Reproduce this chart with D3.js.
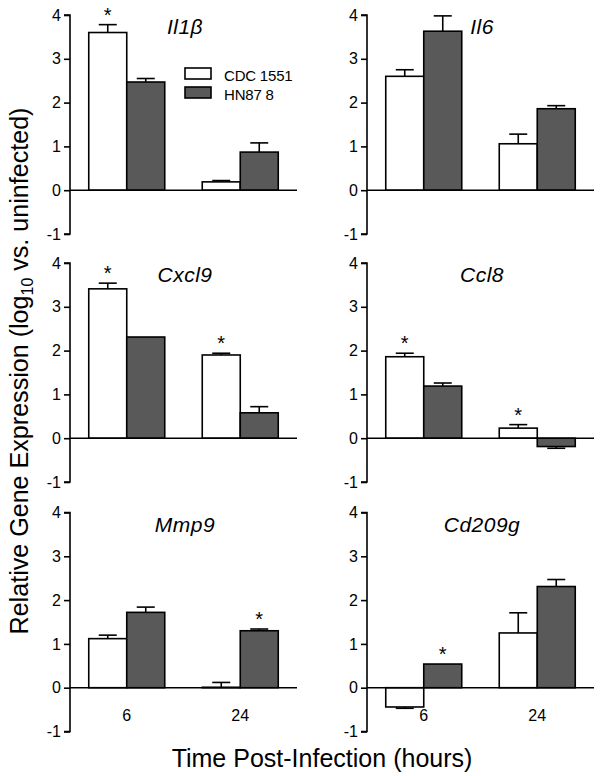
<!DOCTYPE html>
<html>
<head>
<meta charset="utf-8">
<script src="https://cdn.jsdelivr.net/npm/d3@7"></script>
<style>
  body { margin: 0; background: #fff; }
  svg { display: block; font-family: "Liberation Sans", Arial, sans-serif; }
</style>
</head>
<body>
<div id="chart"></div>
<script>
// values, log10 fold change vs. uninfected, [6h, 24h]
const genes = ["Il1β", "Il6", "Cxcl9", "Ccl8", "Mmp9", "Cd209g"];
const times = ["6", "24"];
const strains = ["CDC 1551", "HN87 8"];
const yTicks = [-1, 0, 1, 2, 3, 4];

const cdc1551 = [[3.60, 0.19], [2.60, 1.06], [3.41, 1.90], [1.86, 0.23], [1.12, 0.01], [-0.44, 1.25]];
const cdc1551Err = [[0.18, 0.03], [0.15, 0.22], [0.13, 0.04], [0.08, 0.08], [0.08, 0.11], [0.03, 0.46]];
const hn878 = [[2.47, 0.87], [3.63, 1.86], [2.31, 0.58], [1.19, -0.19], [1.72, 1.30], [0.54, 2.31]];
const hn878Err = [[0.08, 0.21], [0.35, 0.07], [0.0, 0.14], [0.07, 0.04], [0.12, 0.04], [0.0, 0.16]];
const cdc1551Sig = [[1, 0], [0, 0], [1, 1], [1, 1], [0, 0], [0, 0]];
const hn878Sig = [[0, 0], [0, 0], [0, 0], [0, 0], [0, 1], [1, 0]];

const W = 600, H = 776;
const colX = [70, 367], panelW = 227;
const rowTop = [15, 263, 512.5], panelH = 219;
const fills = { "CDC 1551": "#ffffff", "HN87 8": "#595959" };

const svg = d3.select("#chart").append("svg")
  .attr("width", W).attr("height", H);

const x0 = d3.scalePoint().domain(times).range([0, panelW]).padding(0.5);
const x1 = d3.scaleBand().domain(strains).range([-38, 38]);

genes.forEach((gene, gi) => {
  const col = gi % 2, row = Math.floor(gi / 2);
  const g = svg.append("g")
    .attr("transform", `translate(${colX[col]},${rowTop[row]})`);
  const y = d3.scaleLinear().domain([-1, 4]).range([panelH, 0]);

  const bars = [];
  times.forEach((t, ti) => {
    bars.push({ t, s: strains[0], v: cdc1551[gi][ti], e: cdc1551Err[gi][ti], sig: cdc1551Sig[gi][ti] });
    bars.push({ t, s: strains[1], v: hn878[gi][ti], e: hn878Err[gi][ti], sig: hn878Sig[gi][ti] });
  });

  // y axis
  g.append("g")
    .call(d3.axisLeft(y).tickValues(yTicks).tickSize(6).tickPadding(3).tickFormat(d => String(d)))
    .call(a => a.select(".domain").attr("stroke-width", 1.6).attr("d", `M-6,${y(-1)}H0V${y(4)}H-6`))
    .call(a => a.selectAll(".tick line").attr("stroke-width", 1.6))
    .call(a => a.selectAll("text").attr("font-size", 16).attr("fill", "#000")
      .attr("font-family", "Liberation Sans, Arial, sans-serif"));

  const cx = d => x0(d.t) + x1(d.s);

  g.selectAll(".bar").data(bars).join("rect")
    .attr("class", "bar")
    .attr("x", cx)
    .attr("width", x1.bandwidth())
    .attr("y", d => y(Math.max(0, d.v)))
    .attr("height", d => Math.abs(y(d.v) - y(0)))
    .attr("fill", d => fills[d.s])
    .attr("stroke", "#000")
    .attr("stroke-width", 1.6);

  // error bars (one-sided, away from zero)
  const errEnd = d => d.v >= 0 ? d.v + d.e : d.v - d.e;
  const eb = bars.filter(d => d.e > 0);
  g.selectAll(".err").data(eb).join("line")
    .attr("class", "err")
    .attr("x1", d => cx(d) + x1.bandwidth() / 2)
    .attr("x2", d => cx(d) + x1.bandwidth() / 2)
    .attr("y1", d => y(d.v))
    .attr("y2", d => y(errEnd(d)))
    .attr("stroke", "#000").attr("stroke-width", 1.6);
  g.selectAll(".cap").data(eb).join("line")
    .attr("class", "cap")
    .attr("x1", d => cx(d) + x1.bandwidth() / 2 - 9)
    .attr("x2", d => cx(d) + x1.bandwidth() / 2 + 9)
    .attr("y1", d => y(errEnd(d)))
    .attr("y2", d => y(errEnd(d)))
    .attr("stroke", "#000").attr("stroke-width", 1.6);

  // zero line
  g.append("line")
    .attr("x1", 0).attr("x2", panelW)
    .attr("y1", y(0)).attr("y2", y(0))
    .attr("stroke", "#000").attr("stroke-width", 1.6);

  // significance
  g.selectAll(".star").data(bars.filter(d => d.sig)).join("text")
    .attr("class", "star")
    .attr("x", d => cx(d) + x1.bandwidth() / 2)
    .attr("y", d => y(Math.max(d.v, errEnd(d))) - 3)
    .attr("text-anchor", "middle")
    .attr("font-size", 20)
    .text("*");

  // gene title
  g.append("text")
    .attr("x", 115).attr("y", 19)
    .attr("text-anchor", "middle")
    .attr("font-size", 21)
    .attr("font-style", "italic")
    .attr("letter-spacing", 0.5)
    .text(gene);

  // time labels on bottom row
  if (row === 2) {
    g.selectAll(".tl").data(times).join("text")
      .attr("class", "tl")
      .attr("x", d => x0(d))
      .attr("y", y(0) + 33)
      .attr("text-anchor", "middle")
      .attr("font-size", 16)
      .text(d => d);
  }

  // legend in first panel
  if (gi === 0) {
    const lg = g.append("g").attr("transform", "translate(115,53)");
    strains.forEach((s, i) => {
      lg.append("rect")
        .attr("x", 0).attr("y", i * 19)
        .attr("width", 26).attr("height", 11)
        .attr("fill", fills[s]).attr("stroke", "#000").attr("stroke-width", 1.6);
      lg.append("text")
        .attr("x", 39).attr("y", i * 19 + 13)
        .attr("font-size", 15)
        .attr("letter-spacing", -0.2)
        .text(s);
    });
  }
});

// axis titles, sized to the span they take in the figure
const yt = svg.append("text")
  .attr("transform", "translate(28,371) rotate(-90)")
  .attr("text-anchor", "middle")
  .attr("font-size", 24);
yt.append("tspan").text("Relative Gene Expression (log");
yt.append("tspan").attr("font-size", 16).attr("dy", 5).text("10");
yt.append("tspan").attr("dy", -5).text(" vs. uninfected)");
const ytLen = yt.node().getComputedTextLength();
yt.attr("font-size", 24 * 528 / ytLen);

const xt = svg.append("text")
  .attr("x", 322).attr("y", 767)
  .attr("text-anchor", "middle")
  .attr("font-size", 24)
  .text("Time Post-Infection (hours)");
const xtLen = xt.node().getComputedTextLength();
xt.attr("font-size", 24 * 301 / xtLen);
</script>
</body>
</html>
